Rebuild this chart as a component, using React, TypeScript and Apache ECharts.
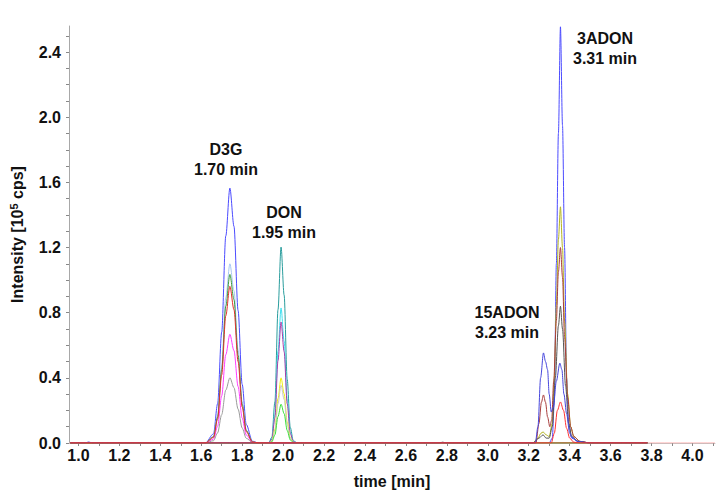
import React, { useEffect, useRef } from "react";
import * as echarts from "echarts";

// ---------- data ----------
const xLabelValues = [1.0, 1.2, 1.4, 1.6, 1.8, 2.0, 2.2, 2.4, 2.6, 2.8, 3.0, 3.2, 3.4, 3.6, 3.8, 4.0];
const xTickValues = [1.0, 1.1, 1.2, 1.3, 1.4, 1.5, 1.6, 1.7, 1.8, 1.9, 2.0, 2.1, 2.2, 2.3, 2.4, 2.5, 2.6, 2.7, 2.8, 2.9, 3.0, 3.1, 3.2, 3.3, 3.4, 3.5, 3.6, 3.7, 3.8, 3.9, 4.0, 4.1];
const yLabelValues = [0, 0.4, 0.8, 1.2, 1.6, 2.0, 2.4];
const yTickValues = [0, 0.1, 0.2, 0.3, 0.4, 0.5, 0.6, 0.7, 0.8, 0.9, 1.0, 1.1, 1.2, 1.3, 1.4, 1.5, 1.6, 1.7, 1.8, 1.9, 2.0, 2.1, 2.2, 2.3, 2.4, 2.5];

const peakNames = ["D3G", "DON", "15ADON", "3ADON"];
const peakTimes = ["1.70 min", "1.95 min", "3.23 min", "3.31 min"];

// chromatogram traces: [time (min), intensity (10^5 cps)]
const traceBaseline: number[][] = [[0.954, 0], [4.11, 0]];
const traceBlue: number[][] = [[0.96, 0], [1.62, 0], [1.66, 0.056], [1.68, 0.241], [1.70, 0.681], [1.72, 1.271], [1.74, 1.565], [1.76, 1.33], [1.78, 0.814], [1.80, 0.36], [1.82, 0.114], [1.85, 0.011], [1.88, 0], [3.30, 0], [3.315, 0.03], [3.325, 0.25], [3.335, 1.1], [3.345, 1.9], [3.355, 2.555], [3.365, 1.95], [3.375, 1.2], [3.385, 0.4], [3.395, 0.12], [3.41, 0.03], [3.44, 0.01], [3.5, 0], [3.78, 0]];
const tracePaleBlue: number[][] = [[0.96, 0], [1.62, 0], [1.66, 0.04], [1.68, 0.169], [1.70, 0.479], [1.72, 0.893], [1.74, 1.10], [1.76, 0.935], [1.78, 0.572], [1.80, 0.253], [1.82, 0.08], [1.85, 0.008], [1.88, 0], [3.78, 0]];
const traceGreen: number[][] = [[0.96, 0], [1.62, 0], [1.66, 0.037], [1.68, 0.159], [1.70, 0.45], [1.72, 0.84], [1.74, 1.035], [1.76, 0.88], [1.78, 0.538], [1.80, 0.238], [1.82, 0.076], [1.85, 0.007], [1.88, 0], [3.78, 0]];
const traceMagenta: number[][] = [[0.96, 0], [1.62, 0], [1.66, 0.024], [1.68, 0.103], [1.70, 0.29], [1.72, 0.542], [1.74, 0.667], [1.76, 0.567], [1.78, 0.347], [1.80, 0.153], [1.82, 0.049], [1.85, 0.005], [1.88, 0], [3.78, 0]];
const traceGray: number[][] = [[0.96, 0], [1.62, 0], [1.66, 0.014], [1.68, 0.062], [1.70, 0.174], [1.72, 0.325], [1.74, 0.40], [1.76, 0.34], [1.78, 0.208], [1.80, 0.092], [1.82, 0.029], [1.85, 0.003], [1.88, 0], [3.78, 0]];
const traceTeal: number[][] = [[0.96, 0], [1.93, 0], [1.945, 0.036], [1.96, 0.253], [1.975, 0.818], [1.99, 1.203], [2.005, 0.908], [2.02, 0.391], [2.035, 0.096], [2.05, 0.013], [2.07, 0], [3.78, 0]];
const traceCyan: number[][] = [[0.96, 0], [1.93, 0], [1.945, 0.025], [1.96, 0.174], [1.975, 0.564], [1.99, 0.829], [2.005, 0.626], [2.02, 0.269], [2.035, 0.066], [2.05, 0.009], [2.07, 0], [3.78, 0]];
const tracePurple: number[][] = [[0.96, 0], [1.93, 0], [1.945, 0.022], [1.96, 0.156], [1.975, 0.505], [1.99, 0.743], [2.005, 0.561], [2.02, 0.241], [2.035, 0.059], [2.05, 0.008], [2.07, 0], [3.78, 0]];
const traceYellow: number[][] = [[0.96, 0], [1.93, 0], [1.945, 0.012], [1.96, 0.084], [1.975, 0.272], [1.99, 0.40], [2.005, 0.302], [2.02, 0.13], [2.035, 0.032], [2.05, 0.004], [2.07, 0], [3.78, 0]];
const traceSilver: number[][] = [[0.96, 0], [1.93, 0], [1.945, 0.011], [1.96, 0.074], [1.975, 0.241], [1.99, 0.354], [2.005, 0.267], [2.02, 0.115], [2.035, 0.028], [2.05, 0.004], [2.07, 0], [3.78, 0]];
const traceLime: number[][] = [[0.96, 0], [1.93, 0], [1.945, 0.007], [1.96, 0.05], [1.975, 0.162], [1.99, 0.238], [2.005, 0.18], [2.02, 0.077], [2.035, 0.019], [2.05, 0.003], [2.07, 0], [3.78, 0]];
const traceOlive: number[][] = [[0.96, 0], [3.22, 0], [3.245, 0.03], [3.26, 0.06], [3.27, 0.068], [3.285, 0.05], [3.30, 0.04], [3.315, 0.12], [3.325, 0.4], [3.335, 0.85], [3.345, 1.25], [3.355, 1.45], [3.365, 1.2], [3.375, 0.75], [3.39, 0.3], [3.405, 0.1], [3.42, 0.04], [3.45, 0.01], [3.5, 0], [3.78, 0]];
const traceBrown: number[][] = [[0.96, 0], [3.235, 0], [3.25, 0.12], [3.262, 0.25], [3.272, 0.295], [3.282, 0.25], [3.292, 0.16], [3.303, 0.1], [3.312, 0.14], [3.322, 0.38], [3.335, 0.75], [3.345, 1.05], [3.355, 1.2], [3.365, 1.02], [3.375, 0.65], [3.39, 0.28], [3.405, 0.1], [3.42, 0.04], [3.45, 0.01], [3.5, 0], [3.78, 0]];
const traceDarkGray: number[][] = [[0.96, 0], [2.76, 0], [2.78, 0.005], [2.80, 0], [3.22, 0], [3.25, 0.03], [3.27, 0.05], [3.285, 0.03], [3.30, 0.03], [3.315, 0.1], [3.33, 0.4], [3.345, 0.72], [3.355, 0.84], [3.365, 0.7], [3.38, 0.35], [3.395, 0.12], [3.41, 0.04], [3.44, 0.01], [3.5, 0], [3.78, 0]];
const traceBlue2: number[][] = [[0.96, 0], [1.03, 0], [1.05, 0.006], [1.07, 0], [3.232, 0], [3.245, 0.1], [3.258, 0.4], [3.272, 0.553], [3.282, 0.5], [3.292, 0.45], [3.30, 0.3], [3.31, 0.19], [3.32, 0.22], [3.335, 0.38], [3.352, 0.49], [3.362, 0.45], [3.372, 0.3], [3.385, 0.18], [3.40, 0.06], [3.41, 0.035], [3.44, 0.01], [3.5, 0], [3.78, 0]];
const traceRed2: number[][] = [[0.96, 0], [3.31, 0], [3.325, 0.06], [3.34, 0.2], [3.355, 0.252], [3.37, 0.2], [3.385, 0.09], [3.40, 0.03], [3.42, 0.005], [3.45, 0], [3.78, 0]];
const traceRed: number[][] = [[0.96, 0], [1.62, 0], [1.66, 0.035], [1.68, 0.148], [1.70, 0.418], [1.72, 0.781], [1.74, 0.962], [1.76, 0.818], [1.78, 0.5], [1.80, 0.221], [1.82, 0.07], [1.85, 0.007], [1.88, 0], [3.78, 0]];

const traces = [traceBaseline, traceBlue, tracePaleBlue, traceGreen, traceMagenta, traceGray, traceTeal, traceCyan, tracePurple, traceYellow, traceSilver, traceLime, traceOlive, traceBrown, traceDarkGray, traceBlue2, traceRed2, traceRed];

// ---------- styles / layout ----------
const traceColors = ["#ffaaaa", "#4b4bff", "#a6c6f2", "#3d9a3d", "#ff3cff", "#9a9a9a", "#2a9d9d", "#3ee0f0", "#a83ca8", "#eeee10", "#c8c8c8", "#38e038", "#b4b41e", "#a83c3c", "#555555", "#4646dc", "#ff3030", "#e03030"];
const annotationPos = [
  [226, 159.5],
  [284, 222],
  [507, 322.5],
  [605, 48.5],
];
const FONT = '"Liberation Sans", Arial, Helvetica, sans-serif';

export default function App() {
  const ref = useRef<HTMLDivElement>(null);
  useEffect(() => {
    document.body.style.margin = "0";
    const chart = echarts.init(ref.current!, null, { renderer: "svg" });
    chart.setOption({
      animation: false,
      backgroundColor: "#ffffff",
      grid: { left: 65, right: 8, top: 26, bottom: 52, containLabel: false },
      xAxis: {
        type: "value",
        min: 0.954,
        max: 4.11,
        name: "time [min]",
        nameLocation: "middle",
        nameGap: 30,
        nameTextStyle: { fontFamily: FONT, fontWeight: "bold", fontSize: 16, color: "#111" },
        axisLine: { show: true, onZero: false, lineStyle: { color: "#c0c0c0", width: 1 } },
        axisTick: { show: true, inside: false, length: 3, customValues: xTickValues, lineStyle: { color: "#888" } },
        axisLabel: {
          customValues: xLabelValues,
          margin: 4,
          fontFamily: FONT,
          fontWeight: "bold",
          fontSize: 16,
          color: "#111",
          formatter: (v: number) => v.toFixed(1),
        },
        splitLine: { show: false },
      },
      yAxis: {
        type: "value",
        min: 0,
        max: 2.56,
        name: "Intensity [10{sup|5} cps]",
        nameLocation: "middle",
        nameRotate: 90,
        nameGap: 42,
        nameTextStyle: {
          fontFamily: FONT,
          fontWeight: "bold",
          fontSize: 16,
          color: "#111",
          rich: {
            sup: { fontFamily: FONT, fontWeight: "bold", fontSize: 11, color: "#111", padding: [0, 0, 8, 0] },
          },
        },
        axisLine: { show: true, onZero: false, lineStyle: { color: "#a8a8a8", width: 1 } },
        axisTick: { show: true, inside: false, length: 3, customValues: yTickValues, lineStyle: { color: "#888" } },
        axisLabel: {
          customValues: yLabelValues,
          margin: 8,
          fontFamily: FONT,
          fontWeight: "bold",
          fontSize: 16,
          color: "#111",
          formatter: (v: number) => v.toFixed(1),
        },
        splitLine: { show: false },
      },
      series: traces.map((d, i) => ({
        type: "line",
        data: d,
        showSymbol: false,
        symbol: "none",
        smooth: 0.3,
        smoothMonotone: "x",
        clip: true,
        lineStyle: { width: 1, color: traceColors[i] },
        itemStyle: { color: traceColors[i] },
        z: 2 + i,
      })),
      graphic: peakNames.map((n, i) => ({
        type: "text",
        x: annotationPos[i][0],
        y: annotationPos[i][1],
        z: 100,
        style: {
          text: n + "\n" + peakTimes[i],
          font: `bold 16px ${FONT}`,
          textAlign: "center",
          textVerticalAlign: "middle",
          lineHeight: 20,
          fill: "#111",
        },
      })),
    });
    return () => chart.dispose();
  }, []);
  return <div ref={ref} style={{ width: 723, height: 495 }} />;
}
